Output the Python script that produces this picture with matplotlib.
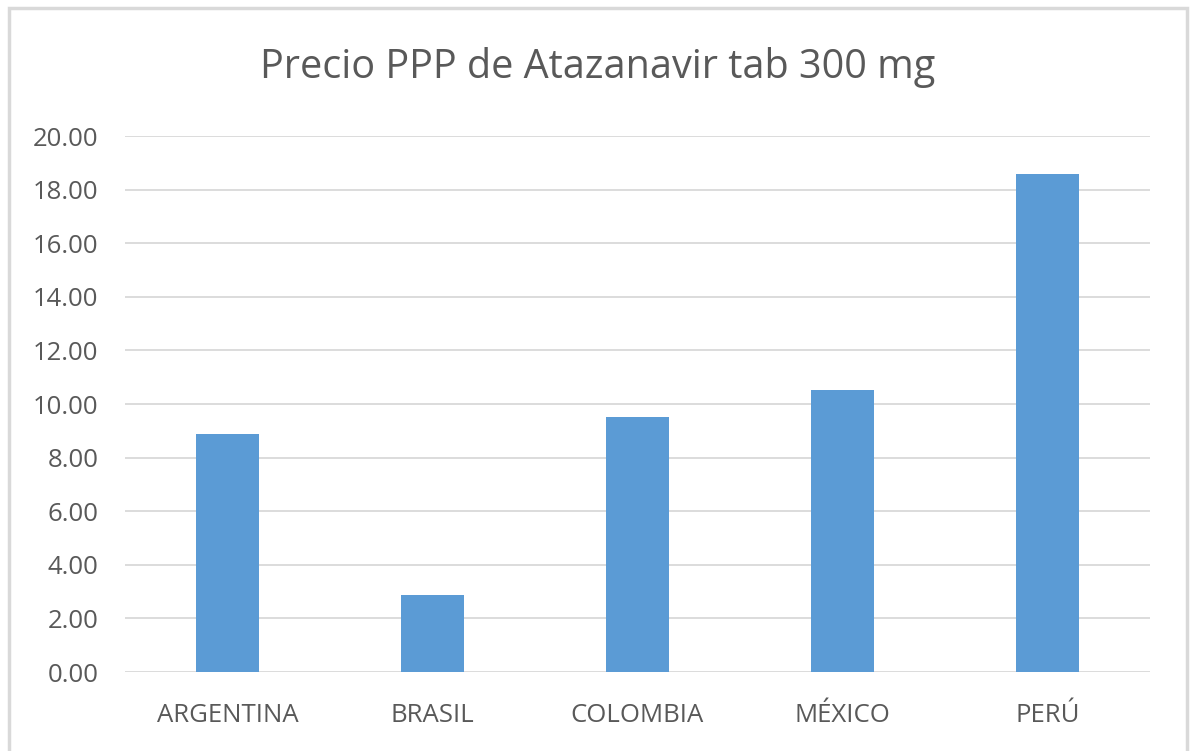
import matplotlib
matplotlib.use("Agg")
import matplotlib.pyplot as plt
from matplotlib.patches import Rectangle

categories = ["ARGENTINA", "BRASIL", "COLOMBIA", "MÉXICO", "PERÚ"]
values = [8.88, 2.87, 9.53, 10.52, 18.60]
yticks = [0, 2, 4, 6, 8, 10, 12, 14, 16, 18, 20]
title = "Precio PPP de Atazanavir tab 300 mg"

plt.rcParams['font.family'] = ['Open Sans', 'DejaVu Sans']
txt = '#595959'

fig = plt.figure(figsize=(11.95, 7.51), dpi=100)
fig.patch.set_facecolor('white')
fig.patches.append(Rectangle((9/1195, -0.05), (1187-9)/1195, 1 - 8/751 + 0.05,
                             transform=fig.transFigure, fill=False,
                             edgecolor='#d9d9d9', linewidth=2.5))

ax = fig.add_axes([125/1195, 1 - 672/751, (1150-125)/1195, (672-136)/751])
x = list(range(len(categories)))
ax.bar(x, values, width=0.307, color='#5b9bd5', zorder=3)
ax.set_xlim(-0.5, len(categories) - 0.5)
ax.set_ylim(0, 20)
ax.set_yticks(yticks)
ax.set_yticklabels([f"{v:.2f}" for v in yticks])
ax.set_xticks(x)
ax.set_xticklabels(categories)
ax.grid(axis='y', color='#d9d9d9', linewidth=1.3, zorder=0)
for s in ax.spines.values():
    s.set_visible(False)
ax.tick_params(axis='both', length=0, colors=txt)
ax.tick_params(axis='y', pad=19, labelsize=18.5)
ax.tick_params(axis='x', pad=22, labelsize=18.5)
for lab in ax.get_xticklabels() + ax.get_yticklabels():
    lab.set_color(txt)

fig.text(0.5, 1 - 68/751, title, ha='center', va='center', fontsize=28.5, color=txt)

fig.savefig("out.png", dpi=100, facecolor='white')
